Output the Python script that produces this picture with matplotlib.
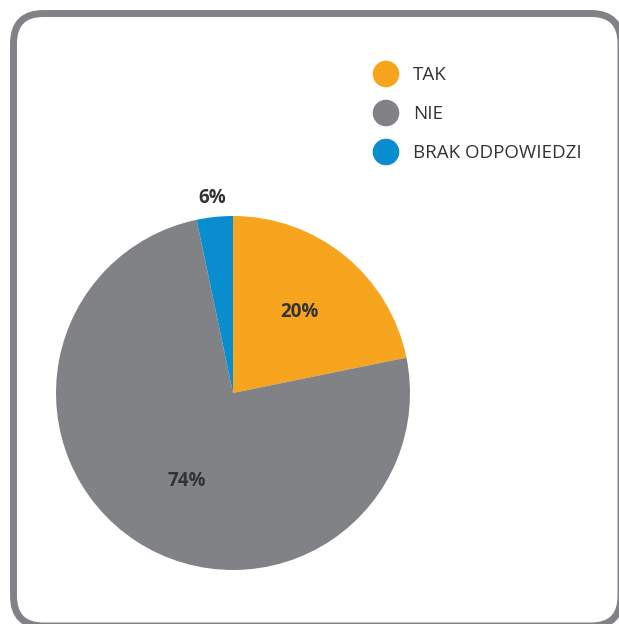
import numpy as np
import matplotlib.pyplot as plt
from matplotlib.patches import FancyBboxPatch, Circle

categories = ['TAK', 'NIE', 'BRAK ODPOWIEDZI']
shares = [21.8, 74.9, 3.3]          # slice sizes as drawn
pct_labels = ['20%', '74%', '6%']   # labels as printed
colors = ['#F7A51E', '#808285', '#0A8DCF']
label_dist = [0.59, 0.56, 1.11]
label_shift = [0, 5.5, 0]           # degrees

W, H = 619, 624
fig = plt.figure(figsize=(W / 100, H / 100), dpi=100)

# background layer in pixel coordinates
bg = fig.add_axes([0, 0, 1, 1])
bg.set_xlim(0, W)
bg.set_ylim(H, 0)
bg.axis('off')
frame = FancyBboxPatch((13.5, 13.5), 607.5, 612.5,
                       boxstyle='round,pad=0,rounding_size=30',
                       fc='white', ec='#808285', lw=5)
bg.add_patch(frame)

# legend
for i, (name, col) in enumerate(zip(categories, colors)):
    y = 74 + i * 39
    bg.add_patch(Circle((386, y), 13.3, color=col, lw=0))
    bg.text(413, y + 1, name, fontsize=13.5, color='#333333',
            family='Open Sans', va='center', ha='left')

# pie
cx, cy, r = 233, 393, 177
ax = fig.add_axes([(cx - r) / W, (H - cy - r) / H, 2 * r / W, 2 * r / H])
wedges, _ = ax.pie(shares, colors=colors, startangle=90, counterclock=False,
                   radius=1, wedgeprops=dict(lw=0))
ax.set_xlim(-1, 1)
ax.set_ylim(-1, 1)
ax.set_aspect('auto')
ax.axis('off')

for w, lab, d, s in zip(wedges, pct_labels, label_dist, label_shift):
    ang = np.deg2rad((w.theta1 + w.theta2) / 2 + s)
    ax.text(d * np.cos(ang), d * np.sin(ang), lab, ha='center', va='center',
            fontsize=13.5, fontweight='bold', color='#333333',
            family='Open Sans')

fig.savefig('out.png', dpi=100)
